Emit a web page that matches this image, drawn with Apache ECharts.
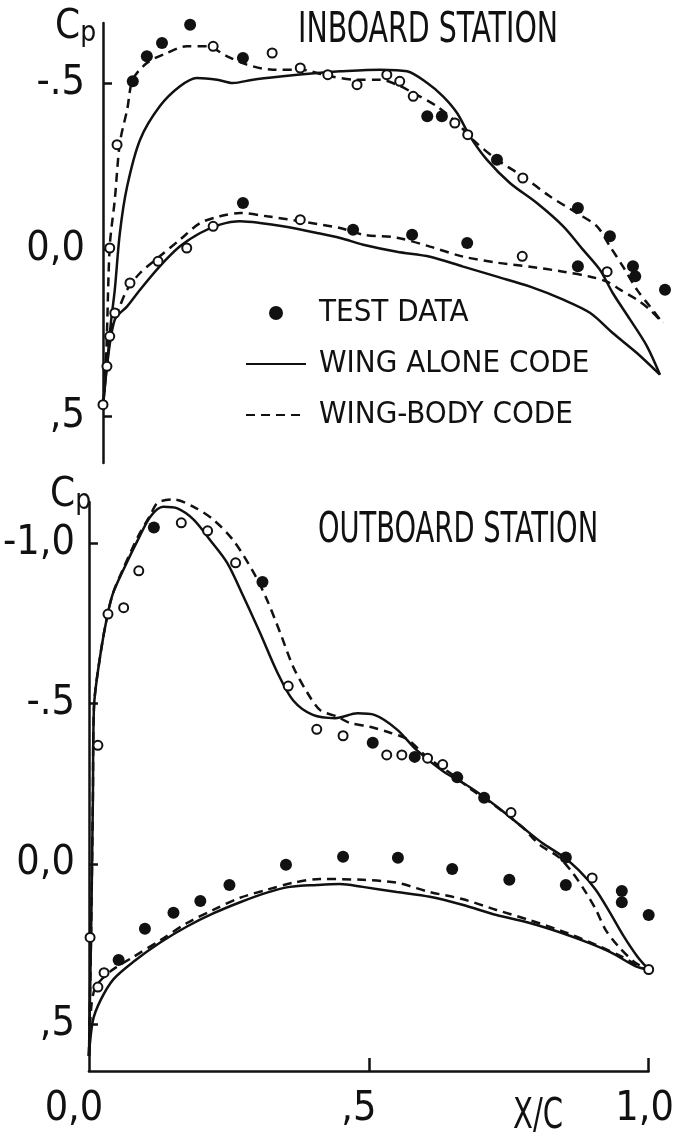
<!DOCTYPE html>
<html><head><meta charset="utf-8">
<script src="https://cdn.jsdelivr.net/npm/echarts@6/dist/echarts.min.js"></script>
<style>html,body{margin:0;padding:0;background:#fff}#c{width:677px;height:1136px}</style>
</head><body><div id="c"></div>
<script>
const FONT = '"Liberation Sans Narrow","DejaVu Sans Condensed","Arial Narrow",sans-serif';

// ---------- INBOARD STATION (top panel) : [x/c, Cp] ----------
const inboardWingAloneUpper = [[0.0,0.47],[0.008,0.33],[0.014,0.22],[0.021,0.12],[0.030,-0.05],[0.043,-0.19],[0.066,-0.33],[0.101,-0.43],[0.137,-0.49],[0.167,-0.515],[0.203,-0.51],[0.231,-0.50],[0.267,-0.51],[0.320,-0.52],[0.381,-0.53],[0.422,-0.535],[0.493,-0.54],[0.541,-0.535],[0.577,-0.50],[0.605,-0.46],[0.630,-0.41],[0.653,-0.34],[0.683,-0.27],[0.724,-0.20],[0.772,-0.14],[0.819,-0.07],[0.854,0.0],[0.884,0.06],[0.907,0.13],[0.938,0.21],[0.968,0.29],[0.991,0.375]];
const inboardWingAloneLower = [[0.0,0.47],[0.007,0.35],[0.021,0.21],[0.043,0.17],[0.066,0.12],[0.101,0.05],[0.137,-0.01],[0.173,-0.05],[0.208,-0.075],[0.244,-0.085],[0.279,-0.08],[0.320,-0.07],[0.381,-0.05],[0.422,-0.035],[0.463,-0.015],[0.523,0.006],[0.582,0.021],[0.641,0.051],[0.701,0.081],[0.760,0.111],[0.819,0.15],[0.867,0.19],[0.907,0.25],[0.950,0.31],[0.991,0.375]];
const inboardWingBodyUpper = [[0.0,0.47],[0.006,0.30],[0.012,-0.01],[0.021,-0.15],[0.030,-0.32],[0.043,-0.42],[0.053,-0.51],[0.078,-0.56],[0.107,-0.585],[0.149,-0.61],[0.185,-0.61],[0.221,-0.58],[0.256,-0.555],[0.302,-0.54],[0.351,-0.54],[0.404,-0.52],[0.452,-0.51],[0.493,-0.51],[0.523,-0.495],[0.552,-0.47],[0.594,-0.43],[0.630,-0.38],[0.658,-0.33],[0.701,-0.27],[0.747,-0.22],[0.795,-0.16],[0.843,-0.11],[0.879,-0.07],[0.902,-0.01],[0.925,0.05],[0.950,0.12],[0.973,0.17],[0.996,0.22]];
const inboardWingBodyLower = [[0.0,0.47],[0.006,0.35],[0.012,0.25],[0.030,0.17],[0.043,0.12],[0.066,0.07],[0.101,0.02],[0.137,-0.03],[0.173,-0.08],[0.208,-0.10],[0.244,-0.11],[0.292,-0.10],[0.351,-0.085],[0.422,-0.065],[0.463,-0.045],[0.523,-0.036],[0.582,-0.009],[0.641,0.021],[0.701,0.039],[0.760,0.051],[0.819,0.066],[0.867,0.081],[0.897,0.096],[0.920,0.12],[0.950,0.15],[0.973,0.18],[0.996,0.22]];
const inboardTestFilled = [[0.053,-0.505],[0.078,-0.58],[0.105,-0.62],[0.155,-0.675],[0.249,-0.575],[0.577,-0.40],[0.603,-0.40],[0.701,-0.27],[0.845,-0.125],[0.902,-0.04],[0.943,0.05],[0.947,0.08],[1.0,0.12],[0.249,-0.14],[0.445,-0.06],[0.550,-0.045],[0.648,-0.02],[0.845,0.05]];
const inboardTestOpen = [[0.025,-0.315],[0.196,-0.61],[0.301,-0.59],[0.351,-0.545],[0.400,-0.525],[0.452,-0.495],[0.505,-0.525],[0.528,-0.505],[0.552,-0.46],[0.626,-0.38],[0.649,-0.345],[0.747,-0.215],[0.012,-0.005],[0.021,0.19],[0.012,0.26],[0.007,0.35],[0.0,0.465],[0.048,0.10],[0.098,0.035],[0.149,-0.005],[0.196,-0.07],[0.351,-0.09],[0.746,0.02],[0.897,0.066]];

// ---------- OUTBOARD STATION (bottom panel) : [x/c, Cp] ----------
const outboardWingAloneUpper = [[0.0,0.6],[0.004,0.2],[0.007,-0.2],[0.009,-0.49],[0.021,-0.66],[0.034,-0.785],[0.044,-0.85],[0.062,-0.92],[0.087,-1.01],[0.110,-1.085],[0.133,-1.115],[0.158,-1.11],[0.187,-1.075],[0.217,-1.01],[0.247,-0.94],[0.276,-0.835],[0.306,-0.72],[0.336,-0.60],[0.365,-0.51],[0.400,-0.465],[0.440,-0.455],[0.480,-0.47],[0.510,-0.465],[0.550,-0.42],[0.585,-0.356],[0.632,-0.29],[0.680,-0.24],[0.728,-0.18],[0.774,-0.115],[0.810,-0.065],[0.845,-0.025],[0.875,0.02],[0.905,0.08],[0.930,0.15],[0.955,0.225],[0.980,0.29],[1.0,0.33]];
const outboardWingAloneLower = [[0.0,0.6],[0.007,0.49],[0.021,0.425],[0.044,0.36],[0.080,0.305],[0.128,0.245],[0.176,0.195],[0.222,0.155],[0.270,0.12],[0.318,0.09],[0.359,0.072],[0.407,0.066],[0.448,0.063],[0.489,0.072],[0.550,0.088],[0.609,0.103],[0.667,0.128],[0.728,0.16],[0.786,0.184],[0.845,0.216],[0.893,0.247],[0.934,0.278],[0.977,0.32],[1.0,0.33]];
const outboardWingBodyUpper = [[0.0,0.6],[0.004,0.2],[0.007,-0.2],[0.009,-0.49],[0.021,-0.66],[0.034,-0.785],[0.044,-0.85],[0.062,-0.925],[0.087,-1.02],[0.110,-1.09],[0.123,-1.128],[0.151,-1.138],[0.187,-1.115],[0.222,-1.075],[0.258,-1.01],[0.294,-0.91],[0.318,-0.825],[0.342,-0.72],[0.365,-0.615],[0.390,-0.535],[0.413,-0.48],[0.443,-0.46],[0.466,-0.44],[0.502,-0.428],[0.537,-0.41],[0.568,-0.39],[0.603,-0.335],[0.644,-0.285],[0.685,-0.23],[0.728,-0.178],[0.774,-0.115],[0.805,-0.06],[0.840,-0.02],[0.865,0.03],[0.888,0.09],[0.906,0.144],[0.923,0.206],[0.947,0.26],[0.977,0.31],[1.0,0.33]];
const outboardWingBodyLower = [[0.0,0.6],[0.004,0.45],[0.012,0.385],[0.039,0.335],[0.080,0.29],[0.128,0.238],[0.176,0.184],[0.222,0.144],[0.270,0.106],[0.318,0.081],[0.365,0.059],[0.413,0.047],[0.489,0.05],[0.550,0.059],[0.609,0.088],[0.667,0.11],[0.728,0.144],[0.786,0.175],[0.845,0.21],[0.906,0.253],[0.952,0.29],[0.988,0.325],[1.0,0.33]];
const outboardTestFilled = [[0.116,-1.05],[0.310,-0.88],[0.507,-0.378],[0.582,-0.334],[0.658,-0.27],[0.706,-0.206],[0.852,-0.02],[0.852,0.066],[0.952,0.085],[0.952,0.12],[1.0,0.16],[0.053,0.30],[0.100,0.203],[0.151,0.153],[0.199,0.116],[0.251,0.066],[0.352,0.003],[0.454,-0.022],[0.552,-0.019],[0.649,0.016],[0.751,0.05]];
const outboardTestOpen = [[0.016,-0.37],[0.034,-0.78],[0.062,-0.80],[0.089,-0.915],[0.165,-1.065],[0.212,-1.04],[0.262,-0.94],[0.356,-0.555],[0.407,-0.42],[0.454,-0.40],[0.532,-0.34],[0.559,-0.34],[0.605,-0.33],[0.632,-0.31],[0.754,-0.16],[0.899,0.044],[0.002,0.23],[0.016,0.385],[0.027,0.34],[1.0,0.33]];

// ---------- tick labels ----------
const topYTicks = [-0.5, 0, 0.5];
const topYLabels = ['-.5', '0,0', ',5'];
const botYTicks = [-1.0, -0.5, 0, 0.5];
const botYLabels = ['-1,0', '-.5', '0,0', ',5'];
const xLabelValues = [0, 0.5, 1.0];
const xTickValues = [0.5, 1.0];
const xLabels = ['0,0', ',5', '1,0'];

const INK = '#111';
function fmt(ticks, labels) {
  return v => { const i = ticks.findIndex(t => Math.abs(t - v) < 1e-6); return i < 0 ? '' : labels[i]; };
}
function yAxisDef(grid, min, max, ticks, labels, margin) {
  return {
    type: 'value', gridIndex: grid, inverse: true, min, max,
    axisLine: { show: true, onZero: false, lineStyle: { color: INK, width: 2.5 } },
    axisTick: { show: true, inside: true, length: 9, customValues: ticks, lineStyle: { color: INK, width: 2.5 } },
    axisLabel: { show: true, customValues: ticks, formatter: fmt(ticks, labels), margin,
      color: INK, fontFamily: FONT, fontSize: 41 },
    splitLine: { show: false }
  };
}
function lineSeries(name, data, g, dashed) {
  return { type: 'line', name, data, xAxisIndex: g, yAxisIndex: g, symbol: 'none', showSymbol: false,
    smooth: 0.3, clip: false, silent: true,
    lineStyle: { color: INK, width: 2.5, type: dashed ? [9, 6] : 'solid' }, itemStyle: { color: INK }, z: 2 };
}
function filledSeries(data, g) {
  return { type: 'scatter', name: 'TEST DATA', data, xAxisIndex: g, yAxisIndex: g, symbol: 'circle',
    symbolSize: 12, clip: false, itemStyle: { color: INK, opacity: 1 }, z: 4 };
}
function openSeries(data, g) {
  return { type: 'scatter', name: 'TEST DATA (open symbols)', data, xAxisIndex: g, yAxisIndex: g, symbol: 'circle',
    symbolSize: 9, clip: false, itemStyle: { color: '#fff', borderColor: INK, borderWidth: 2, opacity: 1 }, z: 3 };
}
function label(text, x, y, size, sx) {
  return { type: 'text', x, y, scaleX: sx, scaleY: 1,
    style: { text, fill: INK, font: size + 'px ' + FONT, textAlign: 'left', textVerticalAlign: 'middle' } };
}
function cpLabel(x, y) {
  return { type: 'text', x, y,
    style: { text: '{c|C}{p|p}', fill: INK, textAlign: 'left', textVerticalAlign: 'top',
      rich: { c: { fontFamily: FONT, fontSize: 40, lineHeight: 46, fill: INK, verticalAlign: 'bottom' },
              p: { fontFamily: FONT, fontSize: 28, lineHeight: 46, fill: INK, verticalAlign: 'bottom', padding: [14, 0, 0, 0] } } } };
}

const chart = echarts.init(document.getElementById('c'), null, { renderer: 'canvas' });
chart.setOption({
  backgroundColor: '#fff',
  animation: false,
  grid: [
    { left: 103, width: 562, top: 23, height: 440 },
    { left: 88, width: 562, top: 502, height: 569 }
  ],
  xAxis: [
    { type: 'value', gridIndex: 0, min: 0, max: 1, show: false },
    { type: 'value', gridIndex: 1, min: 0, max: 1,
      axisLine: { show: true, onZero: false, lineStyle: { color: INK, width: 2.5 } },
      axisTick: { show: true, inside: true, length: 13, customValues: xTickValues, lineStyle: { color: INK, width: 2.5 } },
      axisLabel: { show: true, customValues: xLabelValues, margin: 18,
        formatter: v => { const i = xLabelValues.findIndex(t => Math.abs(t - v) < 1e-6); return i < 0 ? '' : '{l' + i + '|' + xLabels[i] + '}'; },
        color: INK, fontFamily: FONT, fontSize: 41,
        rich: { l0: { fontFamily: FONT, fontSize: 41, color: INK, padding: [0, 30, 0, 0] },
                l1: { fontFamily: FONT, fontSize: 41, color: INK, padding: [0, 20, 0, 0] },
                l2: { fontFamily: FONT, fontSize: 41, color: INK, padding: [0, 8, 0, 0] } } },
      splitLine: { show: false } }
  ],
  yAxis: [
    yAxisDef(0, -0.68, 0.64, topYTicks, topYLabels, 18),
    yAxisDef(1, -1.13, 0.647, botYTicks, botYLabels, 14)
  ],
  legend: {
    left: 240, top: 288, orient: 'vertical', itemWidth: 60, itemHeight: 14, itemGap: 11,
    data: [
      { name: 'TEST DATA', icon: 'circle', itemStyle: { opacity: 1 } },
      { name: 'WING ALONE CODE', itemStyle: { opacity: 0 } },
      { name: 'WING-BODY CODE', itemStyle: { opacity: 0 } }
    ],
    textStyle: { color: INK, fontFamily: FONT, fontSize: 31, lineHeight: 40, padding: [0, 0, 0, 8] },
    selectedMode: false
  },
  graphic: [
    label('INBOARD STATION', 298, 31, 42, 0.753),
    label('OUTBOARD STATION', 318, 531, 42, 0.725),
    label('X/C', 513, 1117, 42, 0.77),
    cpLabel(55, 2),
    cpLabel(50, 470)
  ],
  series: [
    lineSeries('WING ALONE CODE', inboardWingAloneUpper, 0, false),
    lineSeries('WING ALONE CODE', inboardWingAloneLower, 0, false),
    lineSeries('WING-BODY CODE', inboardWingBodyUpper, 0, true),
    lineSeries('WING-BODY CODE', inboardWingBodyLower, 0, true),
    filledSeries(inboardTestFilled, 0),
    openSeries(inboardTestOpen, 0),
    lineSeries('WING ALONE CODE', outboardWingAloneUpper, 1, false),
    lineSeries('WING ALONE CODE', outboardWingAloneLower, 1, false),
    lineSeries('WING-BODY CODE', outboardWingBodyUpper, 1, true),
    lineSeries('WING-BODY CODE', outboardWingBodyLower, 1, true),
    filledSeries(outboardTestFilled, 1),
    openSeries(outboardTestOpen, 1)
  ]
});
</script></body></html>
